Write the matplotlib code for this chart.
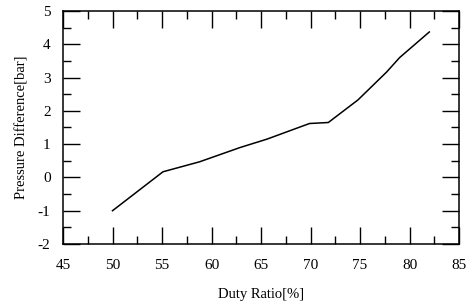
import matplotlib
matplotlib.use('Agg')
import matplotlib.pyplot as plt
from matplotlib.ticker import MultipleLocator

# Duty ratio vs pressure difference
duty = [50, 55.1, 58.8, 62.9, 65.6, 69.9, 71.8, 74.8, 77.7, 79.0, 82.0]
dp = [-1.0, 0.17, 0.47, 0.9, 1.15, 1.62, 1.65, 2.33, 3.17, 3.6, 4.37]

plt.rcParams['font.family'] = 'Liberation Serif'
plt.rcParams['axes.unicode_minus'] = False

fig = plt.figure(figsize=(4.73, 3.01), dpi=100)
ax = fig.add_axes([63/473, 1-244/301, (459-63)/473, (244-11)/301])

ax.plot(duty, dp, color='black', linewidth=1.1)

ax.set_xlim(45, 85)
ax.set_ylim(-2, 5)
ax.xaxis.set_major_locator(MultipleLocator(5))
ax.xaxis.set_minor_locator(MultipleLocator(2.5))
ax.yaxis.set_major_locator(MultipleLocator(1))
ax.yaxis.set_minor_locator(MultipleLocator(0.5))
ax.tick_params(which='both', direction='in', top=True, right=True,
               labelsize=11, width=1.0)
ax.tick_params(which='major', length=12)
ax.tick_params(which='minor', length=6)
ax.tick_params(axis='x', which='major', pad=11)
ax.tick_params(axis='y', which='major', pad=9)
for s in ax.spines.values():
    s.set_linewidth(1.1)

ax.set_xlabel('Duty Ratio[%]', fontsize=10.5, labelpad=11)
ax.set_ylabel('Pressure Difference[bar]', fontsize=10.5, labelpad=7)

fig.savefig('out.png', dpi=100)
